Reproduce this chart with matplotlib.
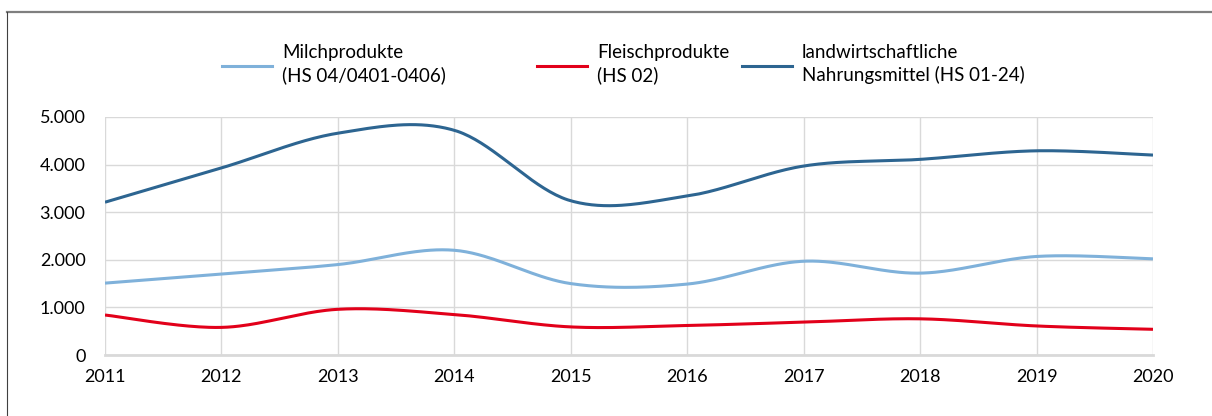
import numpy as np
import matplotlib
matplotlib.use("Agg")
import matplotlib.pyplot as plt
from matplotlib.lines import Line2D
from matplotlib.ticker import FuncFormatter

plt.rcParams['font.family'] = ['Lato', 'DejaVu Sans']

# data
years = [2011, 2012, 2013, 2014, 2015, 2016, 2017, 2018, 2019, 2020]
milch = [1510, 1700, 1900, 2200, 1500, 1490, 1970, 1720, 2070, 2020]
fleisch = [840, 580, 960, 850, 590, 620, 690, 760, 610, 540]
landw = [3210, 3930, 4660, 4720, 3240, 3340, 3970, 4110, 4290, 4200]

labels = ["Milchprodukte\n(HS 04/0401-0406)",
          "Fleischprodukte\n(HS 02)",
          "landwirtschaftliche\nNahrungsmittel (HS 01-24)"]
colors = ["#7fb1da", "#e2001a", "#2d6591"]


def smooth(x, y, n=40):
    # Catmull-Rom style bezier, similar to the "smoothed line" in spreadsheets
    x = np.asarray(x, float)
    y = np.asarray(y, float)
    px = np.concatenate([[x[0]], x, [x[-1]]])
    py = np.concatenate([[y[0]], y, [y[-1]]])
    xs, ys = [], []
    t = np.linspace(0, 1, n)
    for i in range(1, len(px) - 2):
        p0 = np.array([px[i], py[i]])
        p3 = np.array([px[i + 1], py[i + 1]])
        c1 = p0 + (p3 - np.array([px[i - 1], py[i - 1]])) / 6
        c2 = p3 - (np.array([px[i + 2], py[i + 2]]) - p0) / 6
        b = ((1 - t) ** 3)[:, None] * p0 + (3 * (1 - t) ** 2 * t)[:, None] * c1 \
            + (3 * (1 - t) * t ** 2)[:, None] * c2 + (t ** 3)[:, None] * p3
        xs.extend(b[:, 0])
        ys.extend(b[:, 1])
    return xs, ys


fig = plt.figure(figsize=(12.12, 4.16), dpi=100)
ax = fig.add_axes([105 / 1212, 1 - 355 / 416, (1153 - 105) / 1212, (355 - 117) / 416])

for vals, c in zip([milch, fleisch, landw], colors):
    sx, sy = smooth(years, vals)
    ax.plot(sx, sy, color=c, lw=2.2, solid_capstyle='butt', zorder=3)

ax.set_xlim(2011, 2020)
ax.set_ylim(0, 5000)
ax.set_xticks(years)
ax.set_yticks(range(0, 5001, 1000))
ax.yaxis.set_major_formatter(FuncFormatter(lambda v, p: f"{int(v):,}".replace(",", ".")))
ax.grid(True, color="#d9d9d9", lw=1)
ax.set_axisbelow(True)
for s in ['top', 'right', 'left']:
    ax.spines[s].set_visible(False)
ax.spines['bottom'].set_color("#d9d9d9")
ax.spines['bottom'].set_linewidth(2)
ax.tick_params(length=0, labelsize=13, colors="#000000")
ax.tick_params(axis='x', pad=10)
ax.tick_params(axis='y', pad=14)

# legend, placed entry by entry like the original
hx = [222, 537, 742]
for lab, c, x0 in zip(labels, colors, hx):
    fig.add_artist(Line2D([x0 / 1212, (x0 + 50) / 1212], [1 - 66 / 416] * 2,
                          color=c, lw=2.2, transform=fig.transFigure))
    fig.text((x0 + 60) / 1212, 1 - 64 / 416, lab, fontsize=13.5, va='center',
             ha='left', linespacing=1.3)

# frame around the chart
fig.add_artist(Line2D([7 / 1212, 1], [1 - 12 / 416] * 2, color="#7f7f7f", lw=1.6,
                      transform=fig.transFigure))
fig.add_artist(Line2D([7 / 1212] * 2, [0, 1 - 12 / 416], color="#404040", lw=0.8,
                      transform=fig.transFigure))

fig.savefig("out.png", dpi=100)
